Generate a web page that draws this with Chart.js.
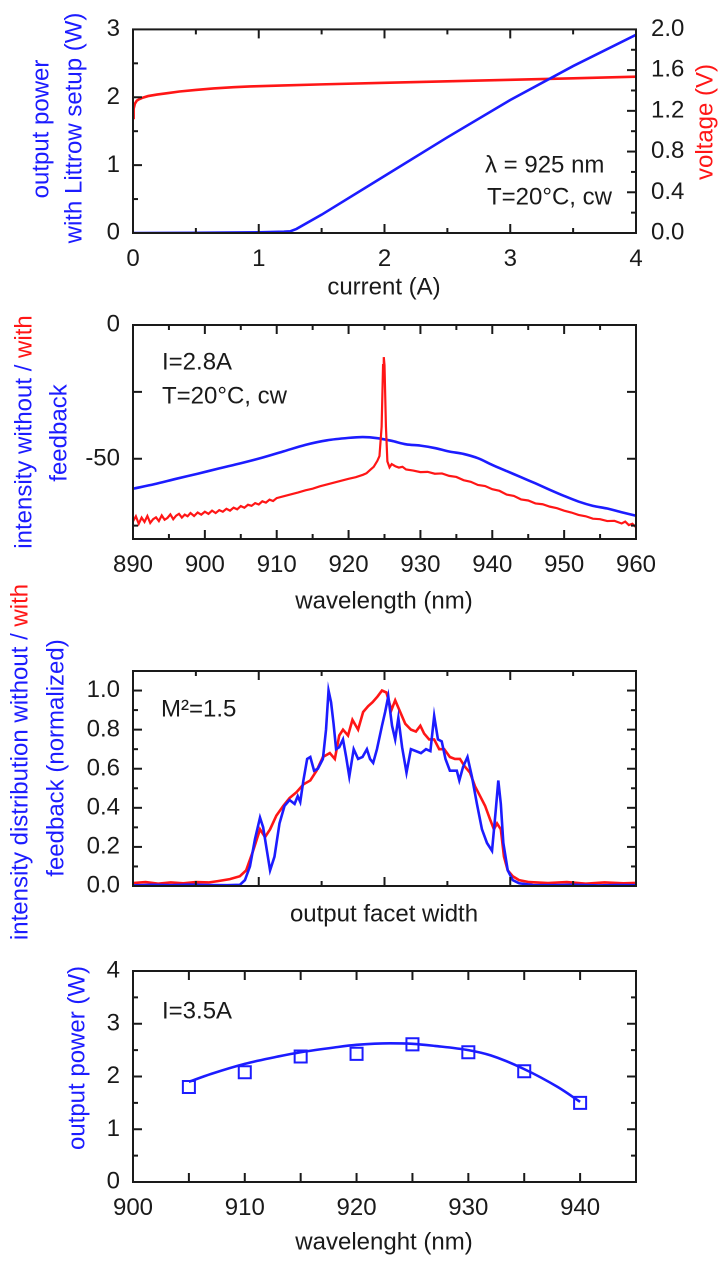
<!DOCTYPE html>
<html><head><meta charset="utf-8">
<script src="https://cdn.jsdelivr.net/npm/chart.js@4.4.1/dist/chart.umd.min.js"></script>
<style>
html,body{margin:0;padding:0;background:#fff;}
body{width:720px;height:1261px;position:relative;overflow:hidden;}
canvas{position:absolute;left:0;top:0;}
</style></head><body>
<canvas id="c1" width="720" height="1261" style="width:720px;height:1261px"></canvas>
<canvas id="c2" width="720" height="1261" style="width:720px;height:1261px"></canvas>
<canvas id="c3" width="720" height="1261" style="width:720px;height:1261px"></canvas>
<canvas id="c4" width="720" height="1261" style="width:720px;height:1261px"></canvas>
<script>
// ---------------- Panel 1: power / voltage vs current ----------------
const P1_CURRENT_V = [0, 0.005, 0.015, 0.03, 0.05, 0.08, 0.12, 0.19, 0.28, 0.37, 0.5, 0.64, 0.8, 0.93, 1.2, 1.5, 2.0, 2.5, 3.0, 3.5, 4.0];
const P1_VOLTAGE   = [1.13, 1.22, 1.27, 1.30, 1.315, 1.33, 1.345, 1.36, 1.375, 1.39, 1.405, 1.42, 1.432, 1.44, 1.45, 1.46, 1.475, 1.49, 1.505, 1.52, 1.535];
const P1_CURRENT_P = [0, 0.5, 1.0, 1.2, 1.25, 1.3, 1.5, 2.0, 2.5, 3.0, 3.5, 4.0];
const P1_POWER     = [0, 0.003, 0.01, 0.02, 0.025, 0.06, 0.27, 0.84, 1.41, 1.96, 2.46, 2.92];
const P1_X_LABELS  = [0, 1, 2, 3, 4];
const P1_Y_LABELS  = [0, 1, 2, 3];
const P1_Y2_LABELS = [0, 0.4, 0.8, 1.2, 1.6, 2.0];

// ---------------- Panel 2: spectra ----------------
const P2_WL_WITHOUT = [890, 893, 896, 899, 902, 905, 908, 911, 914, 917, 920, 922, 924, 926, 928, 930, 932, 934, 936, 938, 940, 942, 944, 946, 948, 950, 952, 954, 956, 958, 960];
const P2_WITHOUT    = [-61.2, -59.5, -57.5, -55.6, -53.6, -51.7, -49.6, -47.2, -44.8, -43.1, -42.2, -41.9, -42.3, -43.3, -44.6, -45.1, -46.0, -47.3, -48.2, -49.8, -52.3, -54.6, -56.9, -59.2, -61.6, -63.9, -66.0, -67.6, -68.6, -70.0, -71.3];
const P2_WL_WITH = [890, 890.4, 890.8, 891.2, 891.6, 892, 892.4, 892.8, 893.2, 893.6, 894, 894.4, 894.8, 895.2, 895.6, 896, 896.4, 896.8, 897.2, 897.6, 898, 898.5, 899, 899.5, 900, 900.5, 901, 901.5, 902, 902.5, 903, 903.5, 904, 904.5, 905,
  905.5, 906, 906.5, 907, 907.5, 908, 908.5, 909, 909.5, 910, 911, 912, 913, 914, 915, 916, 917, 918, 919, 920, 921, 922, 922.5, 923, 923.5, 924, 924.3, 924.6, 924.8, 924.9, 925.0, 925.2, 925.4, 925.7, 926, 926.5, 927, 927.5, 928, 929, 930,
  931, 932, 933, 934, 935, 936, 937, 938, 939, 940, 941, 942, 943, 944, 945, 946, 947, 948, 949, 950, 951, 952, 953, 954, 955, 956, 957, 958, 958.5, 959, 959.5, 960];
const P2_WITH = [-73.4, -71.5, -74.3, -72.0, -73.6, -71.4, -74.0, -72.6, -71.9, -73.3, -71.2, -72.8, -72.1, -70.8, -72.6, -71.3, -70.6, -72.0, -70.9, -71.5, -70.3, -71.4, -70.1, -70.9, -69.8, -70.6, -69.4, -70.3, -69.2, -69.8, -68.7, -69.4, -68.3, -68.9, -67.7,
  -68.3, -67.2, -67.6, -66.6, -67.1, -65.9, -66.4, -65.3, -65.8, -64.7, -64.0, -63.3, -62.6, -61.8, -61.2, -60.3, -59.6, -58.9, -58.2, -57.5, -56.9, -56.0, -55.4, -54.2, -53.0, -50.8, -49.0, -38.0, -15.0, -12.0, -15.0, -38.0, -51.0, -53.2, -52.0, -52.8, -53.3, -53.0, -54.0, -54.4, -55.0,
  -54.9, -55.6, -55.5, -56.4, -56.8, -58.0, -58.6, -59.8, -60.2, -61.4, -62.0, -63.4, -63.9, -65.2, -65.6, -66.7, -67.0, -67.9, -68.5, -69.4, -70.1, -71.0, -71.5, -72.4, -72.6, -73.3, -73.2, -74.2, -73.5, -74.8, -74.3, -75.6];
const P2_X_LABELS = [890, 900, 910, 920, 930, 940, 950, 960];
const P2_Y_LABELS = [-50, 0];

// ---------------- Panel 3: near field ----------------
const P3_POS_WITHOUT = [0, 0.3, 0.6, 0.9, 1.2, 1.5, 1.7, 1.78, 1.86, 1.94, 2.02, 2.07, 2.13, 2.18, 2.25, 2.33, 2.41, 2.49, 2.57, 2.62, 2.66, 2.71, 2.77, 2.82, 2.88, 2.94, 3.02, 3.07, 3.11, 3.15, 3.19, 3.23, 3.28, 3.34, 3.39, 3.44, 3.51, 3.58, 3.65, 3.72, 3.77, 3.82, 3.88, 3.96, 4.01, 4.06, 4.12, 4.17, 4.22, 4.28, 4.35, 4.42, 4.50, 4.58, 4.66, 4.73, 4.79, 4.85, 4.91, 4.97, 5.04, 5.09, 5.15, 5.19, 5.25, 5.32, 5.39, 5.47, 5.55, 5.63, 5.71, 5.77, 5.81, 5.85, 5.89, 5.96, 6.04, 6.14, 6.36, 6.7, 7.0, 7.4, 7.7, 8.0];
const P3_WITHOUT = [0.003, 0.006, 0.004, 0.007, 0.005, 0.004, 0.006, 0.03, 0.10, 0.24, 0.35, 0.30, 0.18, 0.08, 0.15, 0.32, 0.41, 0.44, 0.42, 0.46, 0.43, 0.54, 0.65, 0.66, 0.59, 0.60, 0.65, 0.80, 1.00, 0.94, 0.83, 0.70, 0.71, 0.75, 0.66, 0.56, 0.70, 0.65, 0.66, 0.70, 0.65, 0.63, 0.70, 0.82, 0.89, 0.97, 0.82, 0.75, 0.86, 0.71, 0.58, 0.70, 0.69, 0.68, 0.70, 0.69, 0.87, 0.75, 0.74, 0.65, 0.59, 0.59, 0.59, 0.54, 0.61, 0.66, 0.56, 0.42, 0.29, 0.22, 0.18, 0.39, 0.54, 0.42, 0.22, 0.08, 0.03, 0.014, 0.005, 0.004, 0.006, 0.003, 0.005, 0.004];
const P3_POS_WITH = [0, 0.2, 0.4, 0.6, 0.8, 1.0, 1.2, 1.35, 1.54, 1.70, 1.80, 1.91, 2.02, 2.10, 2.18, 2.28, 2.39, 2.49, 2.60, 2.71, 2.82, 2.92, 3.02, 3.13, 3.21, 3.28, 3.34, 3.42, 3.49, 3.58, 3.66, 3.74, 3.81, 3.89, 3.96, 4.03, 4.11, 4.17, 4.25, 4.33, 4.42, 4.50, 4.57, 4.63, 4.71, 4.79, 4.87, 4.95, 5.04, 5.12, 5.20, 5.28, 5.36, 5.44, 5.52, 5.60, 5.68, 5.74, 5.79, 5.85, 5.90, 5.96, 6.04, 6.14, 6.30, 6.6, 6.9, 7.2, 7.5, 7.8, 8.0];
const P3_WITH = [0.015, 0.02, 0.012, 0.018, 0.014, 0.02, 0.018, 0.025, 0.035, 0.05, 0.08, 0.18, 0.29, 0.25, 0.29, 0.36, 0.41, 0.45, 0.48, 0.52, 0.54, 0.59, 0.66, 0.68, 0.65, 0.77, 0.80, 0.77, 0.85, 0.80, 0.89, 0.92, 0.94, 0.97, 1.00, 0.99, 0.90, 0.95, 0.89, 0.83, 0.80, 0.79, 0.82, 0.78, 0.75, 0.75, 0.70, 0.70, 0.66, 0.65, 0.65, 0.61, 0.58, 0.51, 0.46, 0.41, 0.34, 0.29, 0.32, 0.29, 0.15, 0.08, 0.05, 0.03, 0.02, 0.015, 0.02, 0.012, 0.018, 0.014, 0.016];
const P3_Y_LABELS = [0, 0.2, 0.4, 0.6, 0.8, 1.0];

// ---------------- Panel 4: output power vs wavelength ----------------
const P4_WL_MEAS = [905, 910, 915, 920, 925, 930, 935, 940];
const P4_POWER_MEAS = [1.80, 2.08, 2.38, 2.43, 2.61, 2.46, 2.10, 1.50];
const P4_WL_FIT = [905, 907, 910, 913, 915, 918, 920, 923, 925, 927, 930, 932, 935, 938, 940];
const P4_POWER_FIT = [1.90, 2.05, 2.24, 2.38, 2.46, 2.55, 2.60, 2.63, 2.62, 2.58, 2.50, 2.40, 2.14, 1.80, 1.52];
const P4_X_LABELS = [900, 910, 920, 930, 940];
const P4_Y_LABELS = [0, 1, 2, 3, 4];

// ---------------- styling ----------------
const BLUE = 'rgb(28,28,255)';
const RED = 'rgb(255,22,22)';
const INK = '#1a1a1a';
const FAM = '"Liberation Sans", Arial, Helvetica, sans-serif';
const FS = 24;
const W = 720, H = 1261, PL = 133, PR = 636, XAX = 60;

const xy = (xs, ys) => xs.map((x, i) => ({x: x, y: ys[i]}));

const deco = {
  id: 'deco',
  afterDraw(chart, args, o) {
    const ctx = chart.ctx, a = chart.chartArea;
    const xs = chart.scales.x, ys = chart.scales.y, y2 = chart.scales.y2;
    const MAJ = 9, MIN = 5;
    ctx.save();
    ctx.strokeStyle = INK; ctx.lineWidth = 2;
    const seg = (x1, y1, x2, y2_) => { ctx.beginPath(); ctx.moveTo(x1, y1); ctx.lineTo(x2, y2_); ctx.stroke(); };
    const xt = (vals, L) => (vals || []).forEach(v => { const p = xs.getPixelForValue(v); seg(p, a.bottom, p, a.bottom - L); seg(p, a.top, p, a.top + L); });
    xt(o.xMajor, MAJ); xt(o.xMinor, MIN);
    const ylt = (vals, L) => (vals || []).forEach(v => { const p = ys.getPixelForValue(v); seg(a.left, p, a.left + L, p); if (!y2) seg(a.right, p, a.right - L, p); });
    ylt(o.yMajor, MAJ); ylt(o.yMinor, MIN);
    if (y2) {
      const yrt = (vals, L) => (vals || []).forEach(v => { const p = y2.getPixelForValue(v); seg(a.right, p, a.right - L, p); });
      yrt(o.y2Major, MAJ); yrt(o.y2Minor, MIN);
    }
    ctx.strokeRect(a.left, a.top, a.right - a.left, a.bottom - a.top);
    (o.texts || []).forEach(t => {
      ctx.save();
      ctx.font = FS + 'px ' + FAM;
      ctx.textBaseline = 'middle'; ctx.textAlign = 'left';
      const total = t.parts.reduce((s, p) => s + ctx.measureText(p[0]).width, 0);
      ctx.translate(t.x, t.y);
      if (t.rot) ctx.rotate(t.rot * Math.PI / 180);
      let x0 = t.align === 'center' ? -total / 2 : 0;
      t.parts.forEach(p => { ctx.fillStyle = p[1]; ctx.fillText(p[0], x0, 0); x0 += ctx.measureText(p[0]).width; });
      ctx.restore();
    });
    ctx.restore();
  }
};

function axis(opts) {
  return {
    type: 'linear', min: opts.min, max: opts.max, position: opts.position,
    grid: {display: false, drawTicks: false}, border: {display: false},
    ticks: {display: opts.labels !== null, color: INK, font: {family: FAM, size: FS}, padding: opts.pad,
            autoSkip: false, maxRotation: 0, minRotation: 0,
            callback: opts.fmt || (v => String(v))},
    afterBuildTicks: sc => { if (opts.labels) sc.ticks = opts.labels.map(v => ({value: v})); },
    afterFit: sc => { if (sc.isHorizontal()) sc.height = opts.size; else sc.width = opts.size; }
  };
}

function make(id, top, bottom, hasRight, datasets, scales, decoOpts) {
  return new Chart(document.getElementById(id), {
    type: 'line',
    data: {datasets: datasets},
    options: {
      responsive: false, animation: false, devicePixelRatio: 2,
      layout: {padding: {left: 0, right: hasRight ? 0 : W - PR, top: top, bottom: H - bottom - XAX}},
      elements: {point: {radius: 0}, line: {borderWidth: 2.6, tension: 0}},
      plugins: {legend: {display: false}, tooltip: {enabled: false}, deco: decoOpts},
      scales: scales
    },
    plugins: [deco]
  });
}

// Panel 1
make('c1', 18, 233, true, [
  {data: xy(P1_CURRENT_P, P1_POWER), borderColor: BLUE, yAxisID: 'y'},
  {data: xy(P1_CURRENT_V, P1_VOLTAGE), borderColor: RED, yAxisID: 'y2'}
], {
  x: axis({min: 0, max: 4, position: 'bottom', labels: P1_X_LABELS, pad: 12, size: XAX}),
  y: axis({min: 0, max: 3, position: 'left', labels: P1_Y_LABELS, pad: 13, size: PL}),
  y2: axis({min: 0, max: 2, position: 'right', labels: P1_Y2_LABELS, pad: 15, size: W - PR, fmt: v => v.toFixed(1)})
}, {
  xMajor: [1, 2, 3], xMinor: [0.5, 1.5, 2.5, 3.5],
  yMajor: [1, 2], yMinor: [0.5, 1.5, 2.5],
  y2Major: [0.4, 0.8, 1.2, 1.6], y2Minor: [0.2, 0.6, 1.0, 1.4, 1.8],
  texts: [
    {x: 485, y: 166, parts: [['λ = 925 nm', INK]]},
    {x: 487, y: 198, parts: [['T=20°C, cw', INK]]},
    {x: 384, y: 288, align: 'center', parts: [['current (A)', INK]]},
    {x: 42, y: 129, rot: -90, align: 'center', parts: [['output power', BLUE]]},
    {x: 75, y: 128, rot: -90, align: 'center', parts: [['with Littrow setup (W)', BLUE]]},
    {x: 706, y: 122, rot: -90, align: 'center', parts: [['voltage (V)', RED]]}
  ]
});

// Panel 2
make('c2', 325, 539, false, [
  {data: xy(P2_WL_WITH, P2_WITH), borderColor: RED, borderWidth: 2.2},
  {data: xy(P2_WL_WITHOUT, P2_WITHOUT), borderColor: BLUE, tension: 0.3}
], {
  x: axis({min: 890, max: 960, position: 'bottom', labels: P2_X_LABELS, pad: 12, size: XAX}),
  y: axis({min: -80, max: 0, position: 'left', labels: P2_Y_LABELS, pad: 13, size: PL})
}, {
  xMajor: [900, 910, 920, 930, 940, 950], xMinor: [895, 905, 915, 925, 935, 945, 955],
  yMajor: [-25, -50], yMinor: [-75],
  texts: [
    {x: 162, y: 363, parts: [['I=2.8A', INK]]},
    {x: 162, y: 397, parts: [['T=20°C, cw', INK]]},
    {x: 384, y: 602, align: 'center', parts: [['wavelength (nm)', INK]]},
    {x: 25, y: 432, rot: -90, align: 'center', parts: [['intensity without / ', BLUE], ['with', RED]]},
    {x: 60, y: 433, rot: -90, align: 'center', parts: [['feedback', BLUE]]}
  ]
});

// Panel 3
make('c3', 671, 886, false, [
  {data: xy(P3_POS_WITHOUT, P3_WITHOUT), borderColor: BLUE},
  {data: xy(P3_POS_WITH, P3_WITH), borderColor: RED}
], {
  x: axis({min: 0, max: 8, position: 'bottom', labels: null, pad: 0, size: XAX}),
  y: axis({min: 0, max: 1.1, position: 'left', labels: P3_Y_LABELS, pad: 13, size: PL, fmt: v => v.toFixed(1)})
}, {
  xMajor: [2, 4, 6], xMinor: [1, 3, 5, 7],
  yMajor: [0.2, 0.4, 0.6, 0.8, 1.0], yMinor: [0.1, 0.3, 0.5, 0.7, 0.9],
  texts: [
    {x: 161, y: 710, parts: [['M²=1.5', INK]]},
    {x: 384, y: 915, align: 'center', parts: [['output facet width', INK]]},
    {x: 21, y: 762, rot: -90, align: 'center', parts: [['intensity distribution without / ', BLUE], ['with', RED]]},
    {x: 57, y: 758, rot: -90, align: 'center', parts: [['feedback (normalized)', BLUE]]}
  ]
});

// Panel 4
make('c4', 971, 1182, false, [
  {data: xy(P4_WL_MEAS, P4_POWER_MEAS), borderColor: BLUE, showLine: false, pointStyle: 'rect', pointRadius: 8.5, pointBorderWidth: 2, pointBackgroundColor: 'rgba(255,255,255,0)', pointBorderColor: BLUE},
  {data: xy(P4_WL_FIT, P4_POWER_FIT), borderColor: BLUE, cubicInterpolationMode: 'monotone'}
], {
  x: axis({min: 900, max: 945, position: 'bottom', labels: P4_X_LABELS, pad: 12, size: XAX}),
  y: axis({min: 0, max: 4, position: 'left', labels: P4_Y_LABELS, pad: 13, size: PL})
}, {
  xMajor: [905, 910, 915, 920, 925, 930, 935, 940], xMinor: [],
  yMajor: [1, 2, 3], yMinor: [0.5, 1.5, 2.5, 3.5],
  texts: [
    {x: 162, y: 1012, parts: [['I=3.5A', INK]]},
    {x: 384, y: 1243, align: 'center', parts: [['wavelenght (nm)', INK]]},
    {x: 78, y: 1058, rot: -90, align: 'center', parts: [['output power (W)', BLUE]]}
  ]
});
</script>
</body></html>
